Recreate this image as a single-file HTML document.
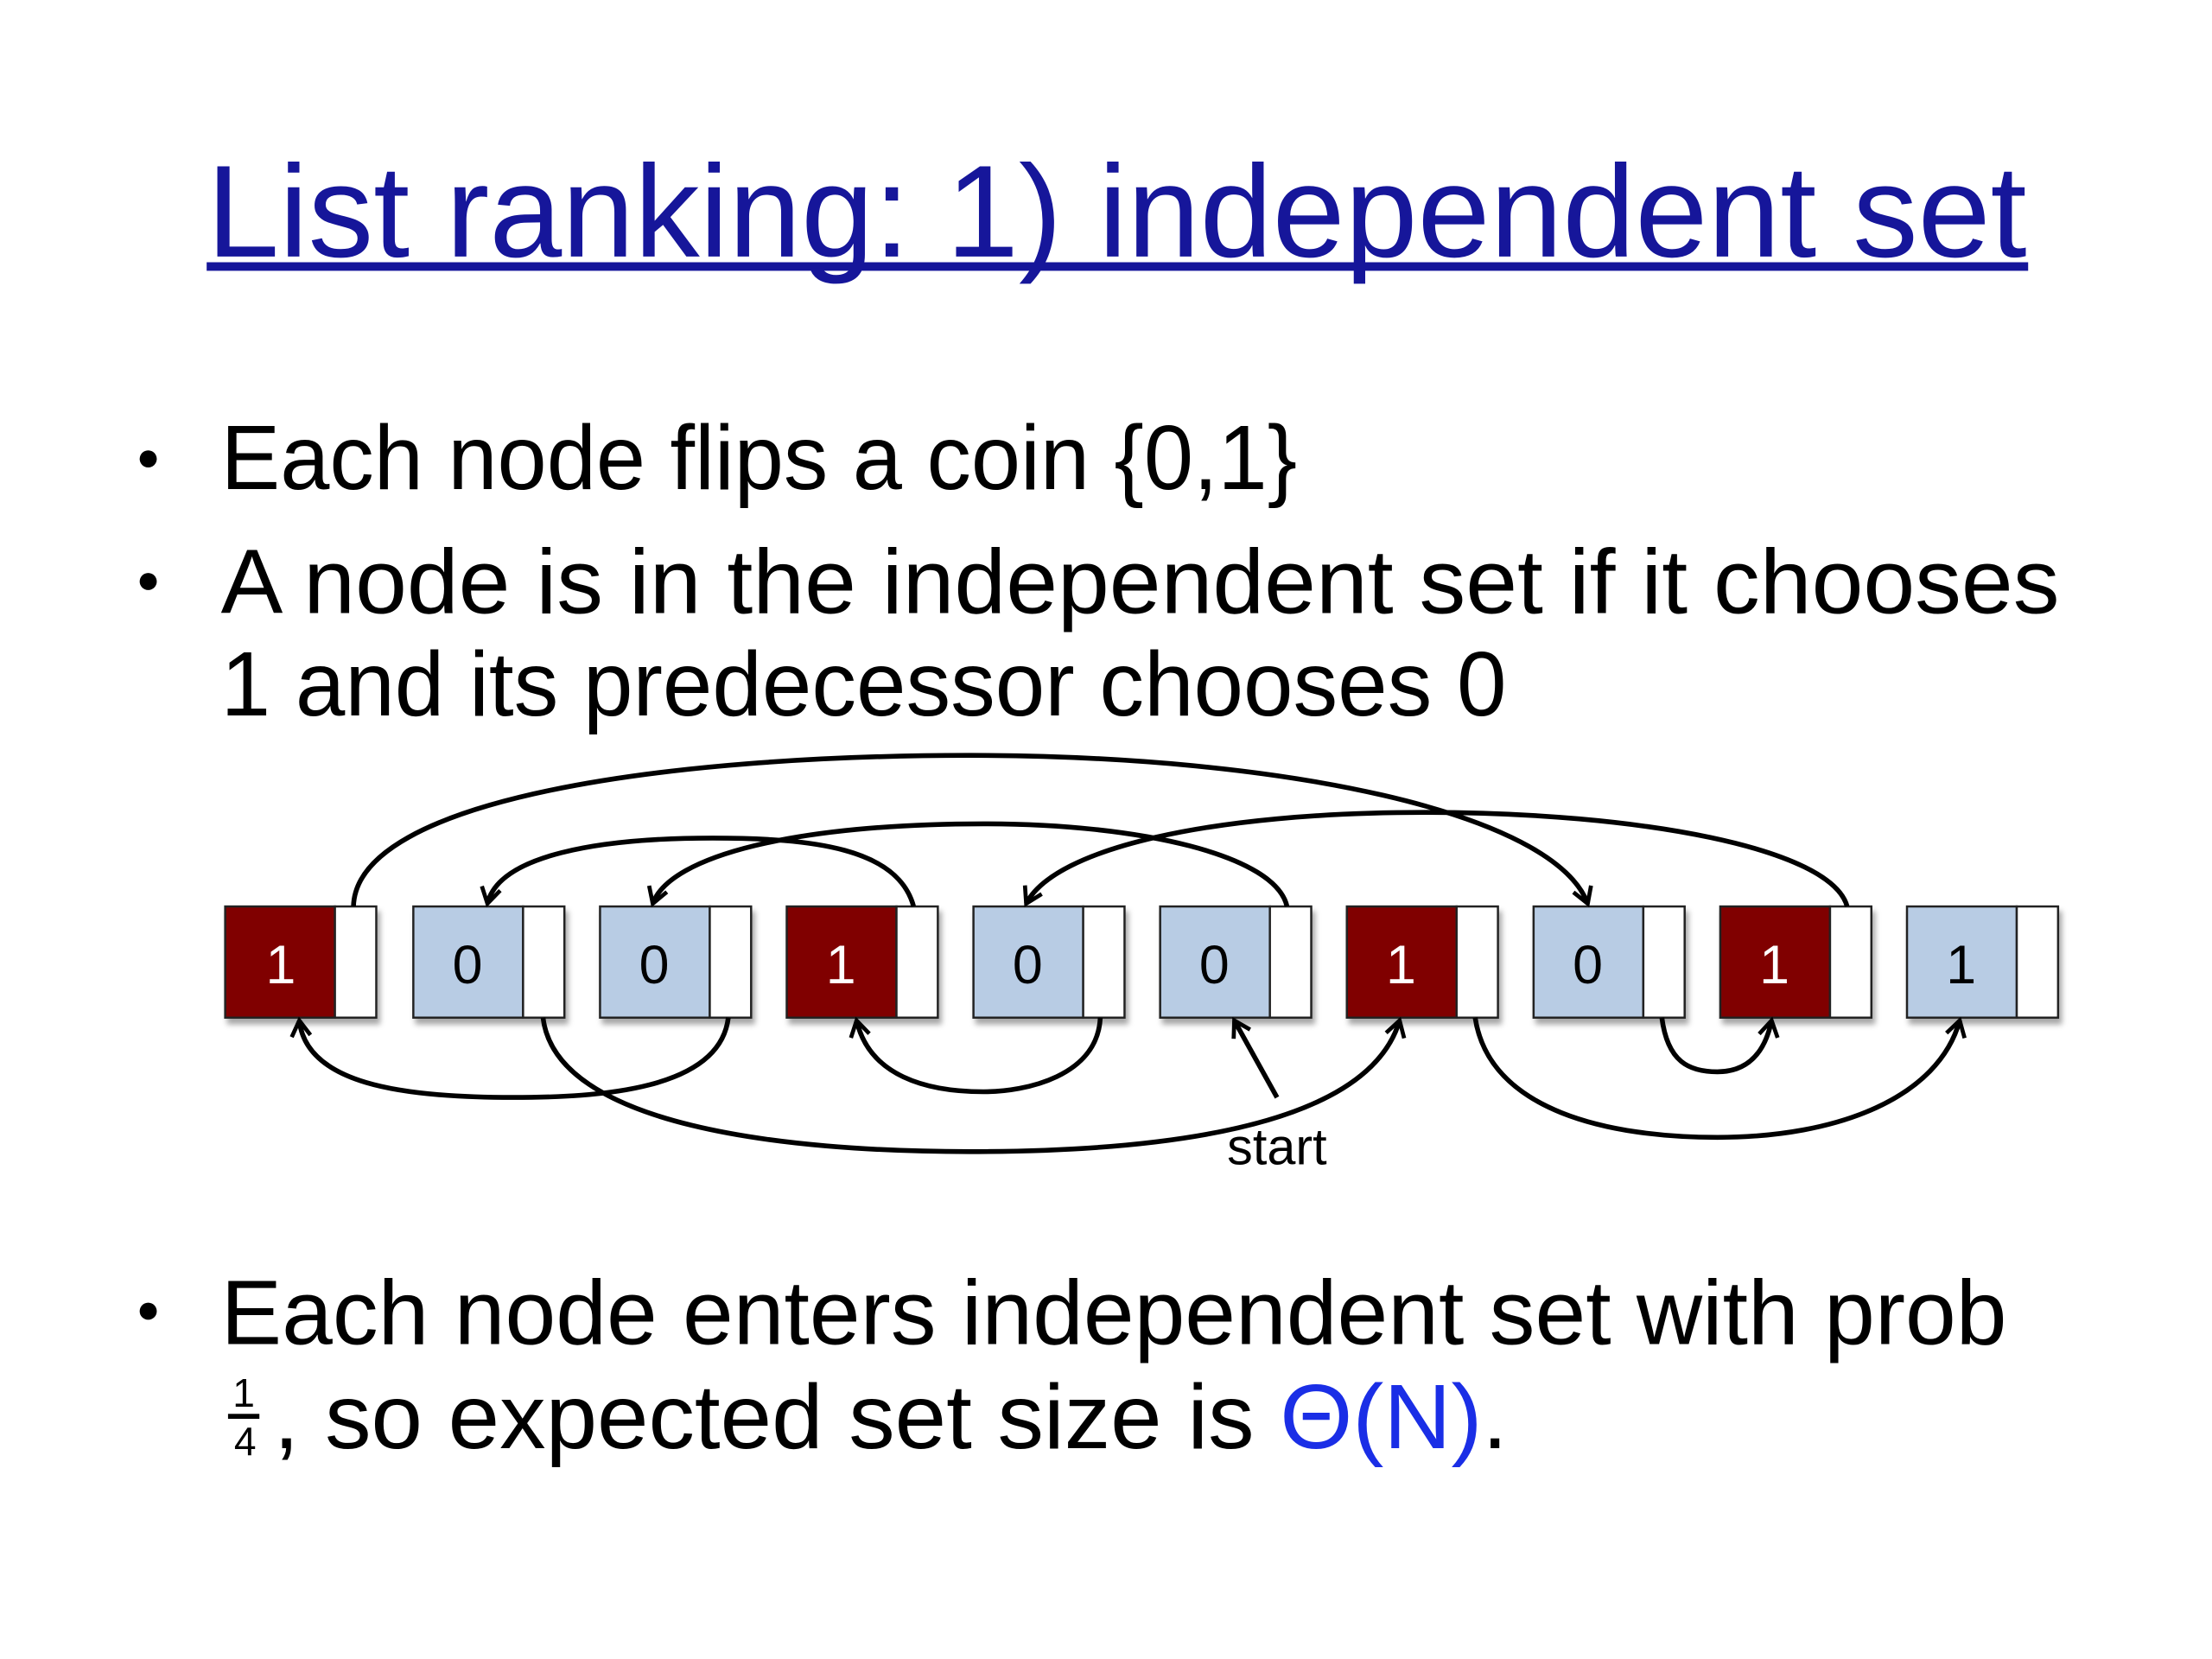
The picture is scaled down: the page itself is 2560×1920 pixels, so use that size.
<!DOCTYPE html>
<html><head><meta charset="utf-8"><style>
html,body{margin:0;padding:0;background:#fff;}
svg{display:block;}
</style></head><body>
<svg width="2560" height="1920" viewBox="0 0 1552 1164" xmlns="http://www.w3.org/2000/svg">
<defs>
<marker id="ah" viewBox="0 0 20 20" refX="12" refY="10" markerWidth="22" markerHeight="22" markerUnits="userSpaceOnUse" orient="auto">
<path d="M2,4 L12,10 L2,16" fill="none" stroke="#000" stroke-width="2.6"/>
</marker>
<filter id="sh" x="-10%" y="-10%" width="130%" height="140%"><feDropShadow dx="2" dy="4" stdDeviation="2" flood-color="#000" flood-opacity="0.35"/></filter>
</defs>
<rect width="1552" height="1164" fill="#fff"/>
<g font-family="'Comic Sans MS','Liberation Sans',sans-serif">
<text x="145" y="180" font-size="92" fill="#16169a" textLength="1277" lengthAdjust="spacingAndGlyphs">List ranking: 1) independent set</text>
<rect x="145" y="184" width="1278" height="6" fill="#16169a"/>

<circle cx="104" cy="322" r="6" fill="#000"/>
<text x="155" y="343" font-size="64" fill="#000" textLength="755" lengthAdjust="spacingAndGlyphs">Each node flips a coin {0,1}</text>
<circle cx="104" cy="408" r="6" fill="#000"/>
<text x="155" y="430" font-size="64" fill="#000" textLength="1290" lengthAdjust="spacingAndGlyphs">A node is in the independent set if it chooses</text>
<text x="155" y="502" font-size="64" fill="#000" textLength="902" lengthAdjust="spacingAndGlyphs">1 and its predecessor chooses 0</text>

<circle cx="104" cy="920" r="6" fill="#000"/>
<text x="155" y="943" font-size="64" fill="#000" textLength="1253" lengthAdjust="spacingAndGlyphs">Each node enters independent set with prob</text>
<text x="171" y="987" font-size="28" fill="#000" text-anchor="middle">1</text>
<rect x="160" y="992" width="22" height="3.5" fill="#000"/>
<text x="172" y="1021" font-size="28" fill="#000" text-anchor="middle">4</text>
<text x="192" y="1016" font-size="64" fill="#000" textLength="688" lengthAdjust="spacingAndGlyphs">, so expected set size is</text>
<text x="898" y="1016" font-size="64" fill="#1a2ee6" textLength="142" lengthAdjust="spacingAndGlyphs">Θ(N)</text>
<text x="1040" y="1016" font-size="64" fill="#000">.</text>
</g>

<g stroke="#222" stroke-width="1.5" filter="url(#sh)">
<rect x="158" y="636" width="77" height="78" fill="#800000"/><rect x="235" y="636" width="29" height="78" fill="#fff"/>
<rect x="290" y="636" width="77" height="78" fill="#b8cce4"/><rect x="367" y="636" width="29" height="78" fill="#fff"/>
<rect x="421" y="636" width="77" height="78" fill="#b8cce4"/><rect x="498" y="636" width="29" height="78" fill="#fff"/>
<rect x="552" y="636" width="77" height="78" fill="#800000"/><rect x="629" y="636" width="29" height="78" fill="#fff"/>
<rect x="683" y="636" width="77" height="78" fill="#b8cce4"/><rect x="760" y="636" width="29" height="78" fill="#fff"/>
<rect x="814" y="636" width="77" height="78" fill="#b8cce4"/><rect x="891" y="636" width="29" height="78" fill="#fff"/>
<rect x="945" y="636" width="77" height="78" fill="#800000"/><rect x="1022" y="636" width="29" height="78" fill="#fff"/>
<rect x="1076" y="636" width="77" height="78" fill="#b8cce4"/><rect x="1153" y="636" width="29" height="78" fill="#fff"/>
<rect x="1207" y="636" width="77" height="78" fill="#800000"/><rect x="1284" y="636" width="29" height="78" fill="#fff"/>
<rect x="1338" y="636" width="77" height="78" fill="#b8cce4"/><rect x="1415" y="636" width="29" height="78" fill="#fff"/>
</g>
<g font-family="'Comic Sans MS','Liberation Sans',sans-serif" font-size="38" text-anchor="middle">
<text x="197" y="690" fill="#fff">1</text>
<text x="328" y="690" fill="#000">0</text>
<text x="459" y="690" fill="#000">0</text>
<text x="590" y="690" fill="#fff">1</text>
<text x="721" y="690" fill="#000">0</text>
<text x="852" y="690" fill="#000">0</text>
<text x="983" y="690" fill="#fff">1</text>
<text x="1114" y="690" fill="#000">0</text>
<text x="1245" y="690" fill="#fff">1</text>
<text x="1376" y="690" fill="#000">1</text>
<text x="896" y="817" font-size="36" fill="#000">start</text>
</g>

<g fill="none" stroke="#000" stroke-width="3.4" marker-end="url(#ah)">
<path d="M248,636 C250,560 470,530 680,530 C900,530 1090,570 1114,634"/>
<path d="M641,636 C630,595 570,588 500,588 C420,588 350,600 342,634"/>
<path d="M903,636 C895,600 800,578 690,578 C560,578 470,600 458,634"/>
<path d="M1296,636 C1285,595 1150,570 1000,570 C850,570 740,595 720,634"/>
<path d="M511,714 C505,765 420,770 360,770 C280,770 215,760 210,716"/>
<path d="M381,714 C390,790 550,808 680,808 C820,808 960,790 982,716"/>
<path d="M772,714 C770,755 720,766 690,766 C650,766 610,755 601,716"/>
<path d="M1166,714 C1170,745 1185,752 1205,752 C1225,752 1238,740 1243,716"/>
<path d="M1035,714 C1045,780 1130,798 1205,798 C1290,798 1360,770 1375,716"/>
<path d="M896,770 L866,716"/>
</g>
</svg>
</body></html>
